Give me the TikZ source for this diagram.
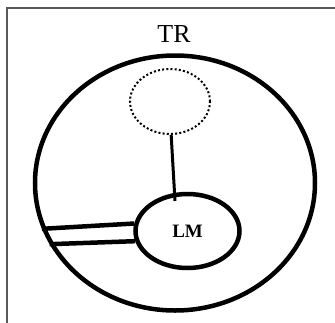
\documentclass[tikz,border=0pt]{standalone}
\usepackage{fontspec}
\setmainfont{Liberation Serif}
\usepackage{tikz}
\usetikzlibrary{shapes.geometric,calc}
\tikzset{
    outer/.style={draw=black, line width=4.5bp, ellipse, inner sep=0pt},
    ghost/.style={draw=black, line width=2bp, dash pattern=on 2bp off 2.2bp, ellipse, inner sep=0pt},
    rail/.style={draw=black, line width=4.5bp}}

\begin{document}
\begin{tikzpicture}[x=1bp, y=-1bp]
    \useasboundingbox (0,0) rectangle (335,323);
    \draw[black!65, line width=1.5bp] (7,323) -- (7,8) -- (335,8);
    \node[outer, minimum width=280bp, minimum height=255bp] at (175,183) (tr) {};
    \node[anchor=base, font=\fontsize{26}{30}\selectfont] at (174,42.3) (title) {TR};
    \node[ghost, minimum width=80bp, minimum height=65bp] at (170,101.5) (dot) {};
    \node[outer, minimum width=104bp, minimum height=74bp, font=\bfseries\fontsize{19}{22}\selectfont] at (187.5,231) (lm) {LM};
    \coordinate (tip) at (175,201);
    \draw[line width=3bp] (dot.-88) -- (tip);
    \draw[rail] (tr.199) -- (lm.172);
    \draw[rail] (tr.206) -- (lm.191);
  \end{tikzpicture}
\end{document}
